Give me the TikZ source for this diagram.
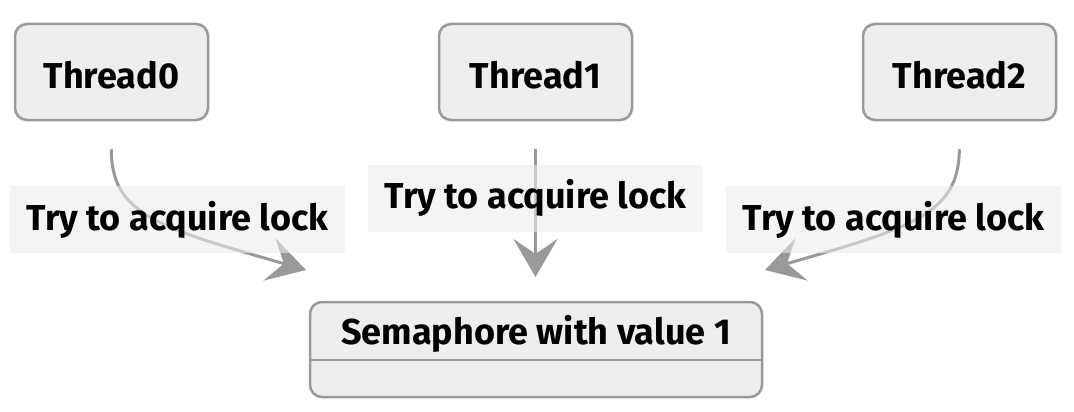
\documentclass[tikz,border=0pt]{standalone}
\usepackage{fontspec}
\setmainfont{Fira Sans}
\usetikzlibrary{arrows.meta}
\definecolor{boxfill}{HTML}{EEEEEE}
\definecolor{boxline}{HTML}{999999}
\definecolor{edgecol}{HTML}{999999}
\definecolor{lblfill}{HTML}{ECECEC}
\begin{document}
\begin{tikzpicture}[x=1pt,y=-1pt,
  thread/.style={draw=boxline, line width=2.5pt, fill=boxfill, rounded corners=12pt,
    minimum width=193pt, minimum height=96pt, inner sep=0pt},
  txt/.style={font=\fontsize{36}{42}\selectfont\bfseries, text=black, inner sep=0pt},
  lbl/.style={fill=lblfill, fill opacity=0.57, text opacity=1, minimum width=335pt,
    minimum height=67pt, inner sep=0pt, font=\fontsize{36}{42}\selectfont\bfseries},
  edge/.style={draw=edgecol, line width=3pt,
    -{Stealth[length=38pt, width=44pt, inset=15pt, fill=edgecol]}}]
\useasboundingbox (0,0) rectangle (1074,412);
% thread boxes
\node[thread] (t0) at (111.5,72) {};
\node[thread] (t1) at (535.5,72) {};
\node[thread] (t2) at (959.5,72) {};
\node[txt] (t0t) at (111.5,75) {Thread0};
\node[txt] (t1t) at (535.5,75) {Thread1};
\node[txt] (t2t) at (959.5,75) {Thread2};
% semaphore
\node[thread, minimum width=452pt, minimum height=95pt] (sem) at (536,349.5) {};
\draw[draw=boxline, line width=2.5pt] ([yshift=-10.5pt]sem.west) -- ([yshift=-10.5pt]sem.east);
\node[txt] (semt) at (536,334) {Semaphore with value 1};
% end points
\coordinate (e0) at (306,270);
\coordinate (e1) at (535.5,277);
\coordinate (e2) at (765,270);
% edges
\draw[edge, shorten <=28pt] (t0.south) .. controls (111,215) and (160,228) .. (e0);
\draw[edge, shorten <=28pt] (t1.south) -- (e1);
\draw[edge, shorten <=28pt] (t2.south) .. controls (959,215) and (910,228) .. (e2);
% labels
\node[lbl] (l0) at (177.5,219.5) {Try to acquire lock};
\node[lbl] (l1) at (535.5,198) {Try to acquire lock};
\node[lbl] (l2) at (893.5,219.5) {Try to acquire lock};
\end{tikzpicture}
\end{document}
